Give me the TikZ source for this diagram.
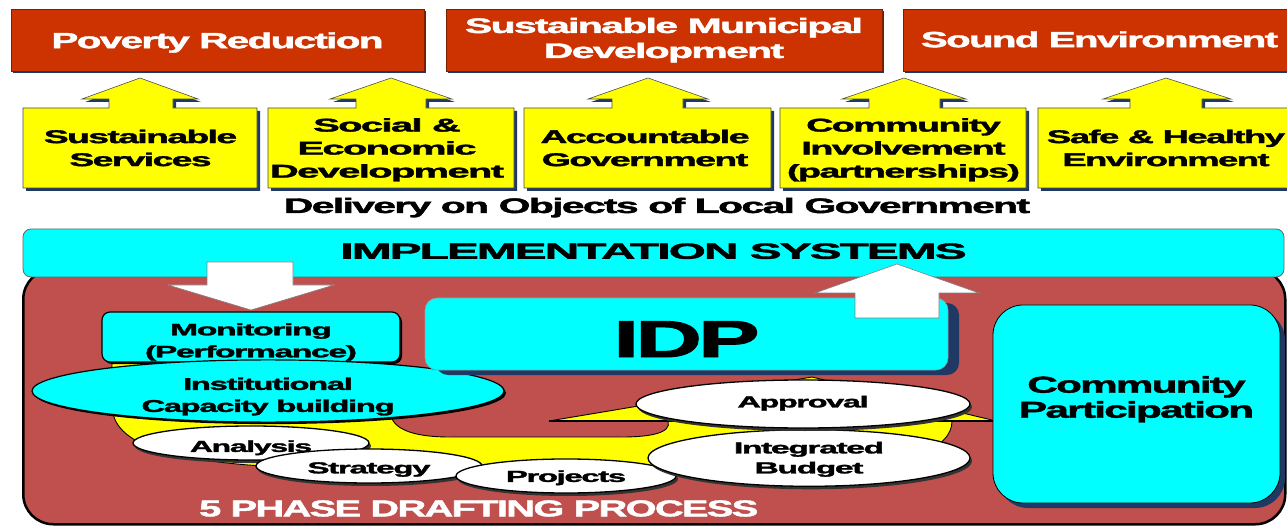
\documentclass[tikz,border=0pt]{standalone}
\usepackage{fontspec}
\setmainfont{Liberation Sans}[FakeBold=1.6, LetterSpace=-4]
\usepackage{graphicx}
\usetikzlibrary{shapes.geometric,shadows}

\definecolor{titlered}{RGB}{204,51,0}
\definecolor{panelred}{RGB}{192,80,77}
\definecolor{callyellow}{RGB}{255,255,0}
\definecolor{boxcyan}{RGB}{0,255,255}
\definecolor{navy}{RGB}{31,56,100}

% set a block of centred lines to a given width, optionally lowered
\newcommand\fitto[3][0]{\raisebox{-#1pt}[\height][\depth]{\resizebox{#2pt}{\height}{\begin{tabular}{@{}c@{}}#3\end{tabular}}}}

% yellow box with an upward block arrow on top
% args: left, right, neck left, neck right, head left, head right, tip x
\newcommand\upcallout[7]{%
  \path[callout] (#1,108) -- (#3,108) -- (#3,99) -- (#5,99) -- (#7,78) -- (#6,99)
     -- (#4,99) -- (#4,108) -- (#2,108) -- (#2,188) -- (#1,188) -- cycle;}

\tikzset{
  txt/.style 2 args={font=\bfseries\fontsize{#1}{#2}\selectfont, inner sep=0pt},
  navyshadow/.style={drop shadow={shadow xshift=#1pt, shadow yshift=-#1pt, fill=navy, opacity=1}},
  titlebox/.style={fill=titlered, draw=titlered!60!black, line width=0.6pt,
     text=white, navyshadow=2, inner sep=0pt},
  callout/.style={fill=callyellow, draw=black!70, line width=0.6pt, navyshadow=3},
  bar/.style={fill=boxcyan, draw=black!60, line width=0.8pt, rounded corners=8pt, inner sep=0pt},
  panel/.style={fill=panelred, draw=black, line width=2.5pt, rounded corners=30pt, inner sep=0pt},
  blockarrow/.style={fill=white, draw=black!50, line width=0.6pt},
  cyanbox/.style={fill=boxcyan, draw=black, line width=1.2pt, inner sep=0pt},
  band/.style={fill=callyellow, draw=black, line width=0.9pt},
  phase/.style={ellipse, fill=white, draw=black, line width=1.3pt, inner sep=0pt,
     drop shadow={shadow xshift=2pt, shadow yshift=-3pt, fill=black!80, opacity=1}},
}

\begin{document}
\begin{tikzpicture}[x=1pt,y=-1pt]
\useasboundingbox (0,0) rectangle (1287,526);
\fill[white] (0,0) rectangle (1287,526);

% ---- goals ----
\node[titlebox, txt={22}{26}, minimum width=413pt, minimum height=62pt] (poverty) at (217.5,40)
  {\fitto[3]{332}{Poverty Reduction}};
\node[titlebox, txt={21}{25}, minimum width=436pt, minimum height=62pt] (municipal) at (664,40)
  {\fitto[0.5]{398}{Sustainable Municipal\\Development}};
\node[titlebox, txt={22}{26}, minimum width=393pt, minimum height=62pt] (sound) at (1099.5,40)
  {\fitto[2]{357}{Sound Environment}};

% ---- objects of local government ----
\upcallout{23}{257}{109}{173}{82}{198}{140}
\upcallout{268}{514}{356}{426}{330}{452}{391}
\upcallout{524}{771}{612}{683}{588}{708}{648}
\upcallout{780}{1026}{869}{940}{842}{966}{904}
\upcallout{1038}{1300}{1130}{1202}{1103}{1231}{1166}

\node[txt={18.5}{23}] (services) at (140.5,150) {\fitto{193}{Sustainable\\Services}};
\node[txt={18.5}{23}] (social) at (387,150) {\fitto{234}{Social \&\\Economic\\Development}};
\node[txt={18.5}{23}] (accountable) at (645,150) {\fitto{209}{Accountable\\Government}};
\node[txt={18.5}{23}] (involvement) at (903.5,150) {\fitto{233}{Community\\Involvement\\(partnerships)}};
\node[txt={18.5}{23}] (safe) at (1166,150) {\fitto{238}{Safe \& Healthy\\Environment}};

\node[txt={21}{25}] (delivery) at (657,208) {\fitto{746}{Delivery on Objects of Local Government}};

% ---- drafting process panel and implementation bar ----
\node[panel, minimum width=1262pt, minimum height=255pt, anchor=north west] (drafting) at (22,268) {};
\node[bar, txt={22}{26}, minimum width=1261pt, minimum height=48pt] (impl) at (653.5,253)
  {\fitto[0.6]{626}{IMPLEMENTATION SYSTEMS}};

% downward arrow into monitoring
\path[blockarrow] (207,262) -- (293,262) -- (293,285) -- (334,285) -- (251,310)
  -- (168,285) -- (207,285) -- cycle;

% yellow cycle arrow behind the phases
\path[band] (112,350) -- (112,405) .. controls (112,445) and (170,463) .. (300,468)
  -- (800,470) .. controls (905,468) and (952,450) .. (952,421)
  -- (996,421) -- (812,377) -- (549,421) -- (668,421)
  .. controls (672,433) and (650,437) .. (622,437) -- (450,437)
  .. controls (410,437) and (390,428) .. (390,410) -- (390,350) -- cycle;
\draw[line width=2pt] (549,421) -- (996,421);

\node[cyanbox, txt={16.5}{22}, rounded corners=8pt, minimum width=298pt, minimum height=50pt,
  drop shadow={shadow xshift=2pt, shadow yshift=-2pt, fill=black, opacity=1}] (monitor) at (251,337)
  {\fitto[4.9]{212}{Monitoring\\(Performance)}};

\node[ellipse, cyanbox, txt={17}{22}, minimum width=472pt, minimum height=58pt,
  drop shadow={shadow xshift=2pt, shadow yshift=-2pt, fill=black, opacity=1}] (capacity) at (268,391)
  {\fitto[5.5]{253}{Institutional\\Capacity building}};

\node[cyanbox, draw=black!40, line width=0.6pt, txt={52}{62}, rounded corners=12pt,
  minimum width=523pt, minimum height=72pt,
  drop shadow={shadow xshift=11pt, shadow yshift=-5pt, fill=navy, opacity=1}] (idp) at (686.5,334)
  {\fitto[10.6]{146}{IDP}};

% upward arrow to implementation systems
\path[blockarrow] (855,318) -- (939,318) -- (939,293) -- (979,293) -- (897,264)
  -- (815,293) -- (855,293) -- cycle;

\node[cyanbox, line width=0.8pt, txt={23}{25}, rounded corners=30pt, minimum width=287pt, minimum height=198pt,
  drop shadow={shadow xshift=5pt, shadow yshift=-5pt, fill=navy, opacity=1}] (participation) at (1136.5,404)
  {\fitto[-3.8]{235}{Community\\Participation}};

% ---- the five phases ----
\node[phase, txt={16}{20}, minimum width=236pt, minimum height=34pt] (analysis) at (251,443)
  {\fitto[4.9]{122}{Analysis}};
\node[phase, txt={16}{20}, minimum width=226pt, minimum height=34pt] (strategy) at (369,466)
  {\fitto[3.4]{123}{Strategy}};
\node[phase, txt={16}{20}, minimum width=220pt, minimum height=34pt] (projects) at (566,476)
  {\fitto[1.9]{120}{Projects}};
\node[phase, txt={16}{20}, minimum width=322pt, minimum height=56pt] (integrated) at (809,458)
  {\fitto[1.4]{150}{Integrated\\Budget}};
\node[phase, txt={16}{20}, minimum width=334pt, minimum height=48pt] (approval) at (803,404)
  {\fitto[-0.6]{131}{Approval}};

\node[txt={23}{27}, text=white, anchor=west] (title) at (199,511)
  {\fitto{559}{5 PHASE DRAFTING PROCESS}};
\end{tikzpicture}
\end{document}
